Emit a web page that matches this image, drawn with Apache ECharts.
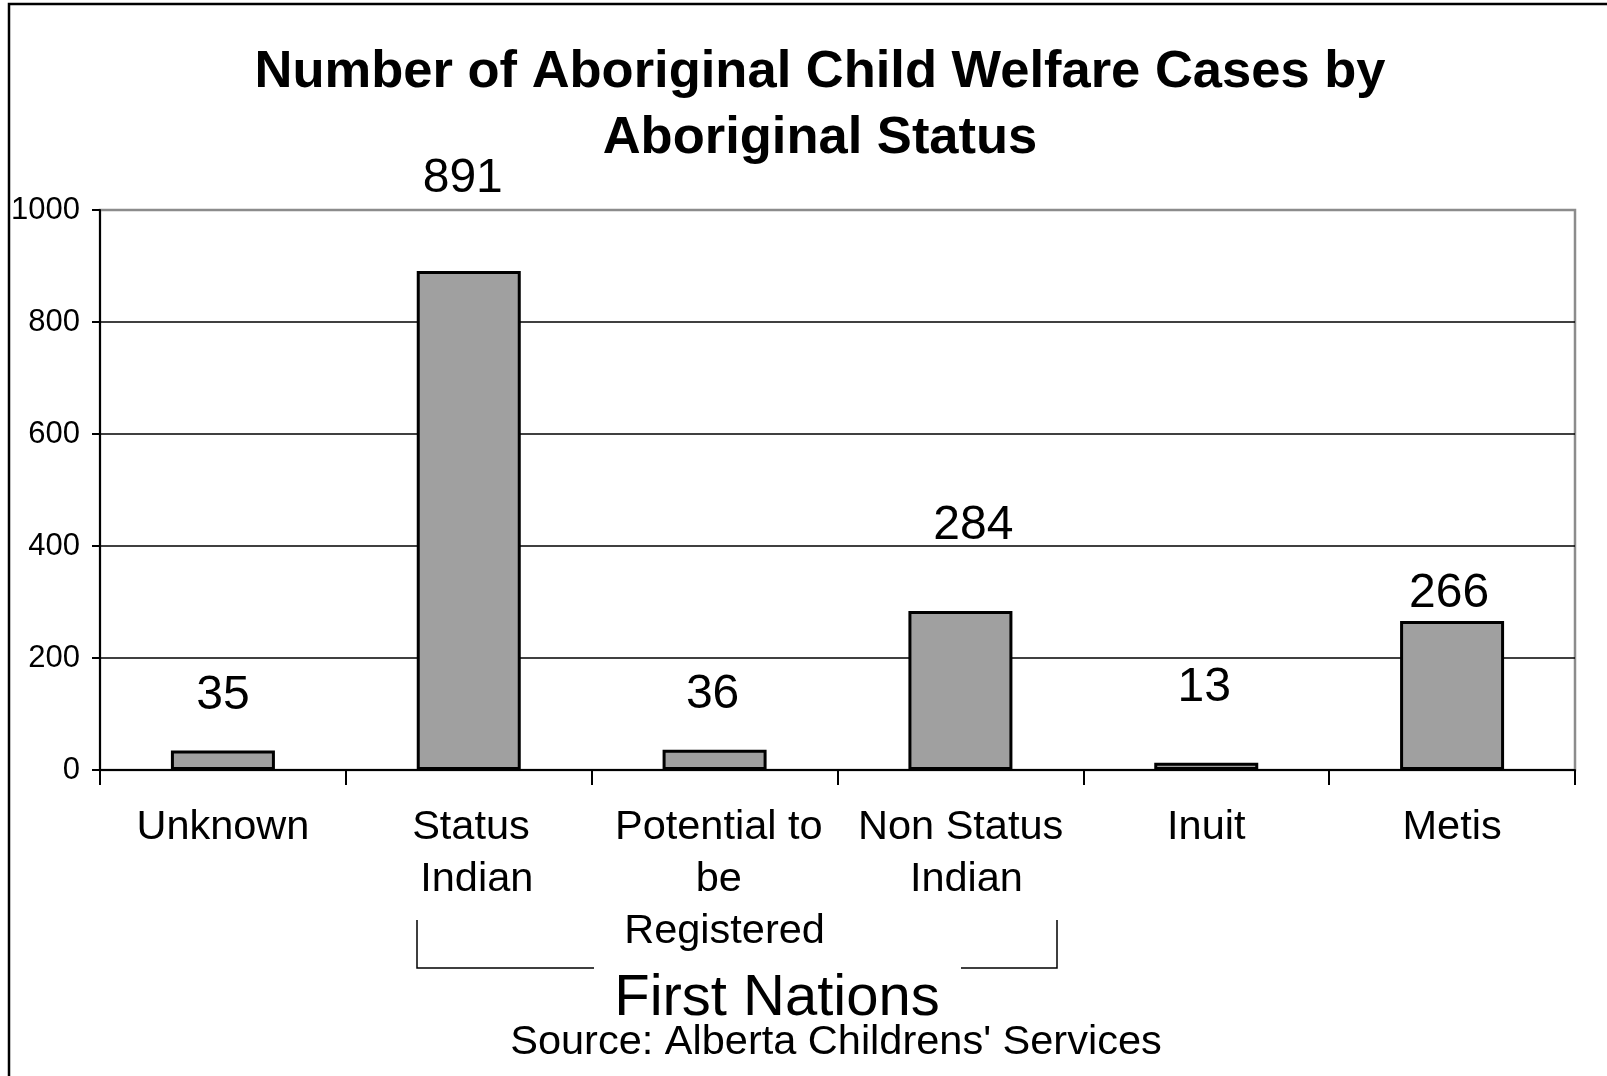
<!DOCTYPE html>
<html>
<head>
<meta charset="utf-8">
<script src="https://cdn.jsdelivr.net/npm/echarts@6/dist/echarts.min.js"></script>
<style>
html,body{margin:0;padding:0;background:#fff;}
#chart{width:1607px;height:1076px;}
</style>
</head>
<body>
<div id="chart"></div>
<script>
// ---- data ----
const categories = ['Unknown', 'Status Indian', 'Potential to be Registered', 'Non Status Indian', 'Inuit', 'Metis'];
const cases = [35, 891, 36, 284, 13, 266];
const yTicks = [0, 200, 400, 600, 800, 1000];
const titleText = 'Number of Aboriginal Child Welfare Cases by\nAboriginal Status';
const groupLabel = 'First Nations';
const sourceLabel = "Source: Alberta Childrens' Services";

// ---- styling (label placement as in the original) ----
const labelOffsets = [[0, -31], [-6, -68], [-2, -31], [13, -61], [-2, -51], [-3, -3]];
const catLabelNudge = [0, 16, 20, 12, 0, 0];
const FONT = '"Liberation Sans", Arial, sans-serif';

const chart = echarts.init(document.getElementById('chart'), null, {renderer: 'canvas'});

const seriesData = cases.map((v, i) => ({
  value: v,
  label: {offset: labelOffsets[i]}
}));
const categoryData = categories.map((c, i) => ({
  value: c,
  textStyle: {padding: [0, 0, 0, catLabelNudge[i]]}
}));

const option = {
  backgroundColor: '#ffffff',
  animation: false,
  title: {
    text: titleText,
    left: 815,
    top: 35,
    textAlign: 'center',
    textStyle: {fontFamily: FONT, fontSize: 52.5, fontWeight: 'bold', color: '#000', lineHeight: 66}
  },
  grid: {
    left: 100, right: 32, top: 210, bottom: 306,
    show: true, borderColor: '#8c8c8c', borderWidth: 2.5, backgroundColor: 'transparent'
  },
  xAxis: {
    type: 'category',
    data: categoryData,
    axisLine: {show: true, lineStyle: {color: '#000', width: 2}},
    axisTick: {show: true, length: 15, lineStyle: {color: '#000', width: 2}},
    axisLabel: {
      fontFamily: FONT, fontSize: 41.5, color: '#000', margin: 32, lineHeight: 52,
      width: 234, overflow: 'break', interval: 0
    }
  },
  yAxis: {
    type: 'value',
    min: yTicks[0], max: yTicks[yTicks.length - 1], interval: yTicks[1] - yTicks[0],
    axisLine: {show: true, lineStyle: {color: '#000', width: 2}},
    axisTick: {show: true, length: 8, lineStyle: {color: '#000', width: 2}},
    axisLabel: {fontFamily: FONT, fontSize: 31, color: '#000', margin: 20, formatter: v => String(v)},
    splitLine: {show: true, lineStyle: {color: ['#000', '#000', '#000', '#000', '#000', '#8c8c8c'], width: 1.5}}
  },
  series: [{
    type: 'bar',
    data: seriesData,
    barWidth: 104,
    itemStyle: {color: '#a0a0a0', borderColor: '#000', borderWidth: 3},
    label: {
      show: true, position: 'top', distance: 0,
      fontFamily: FONT, fontSize: 48, color: '#000'
    }
  }],
  graphic: [
    {type: 'rect', shape: {x: 9, y: 4, width: 1800, height: 1300}, style: {fill: 'none', stroke: '#000', lineWidth: 2.5}, silent: true},
    {type: 'polyline', shape: {points: [[417, 920], [417, 968], [594, 968]]}, style: {fill: 'none', stroke: '#000', lineWidth: 1.5}},
    {type: 'polyline', shape: {points: [[961, 968], [1057, 968], [1057, 920]]}, style: {fill: 'none', stroke: '#000', lineWidth: 1.5}},
    {type: 'text', x: 777, y: 999, style: {text: groupLabel, fontFamily: FONT, fontSize: 58, fill: '#000', textAlign: 'center', textVerticalAlign: 'middle'}},
    {type: 'text', x: 836, y: 1043, style: {text: sourceLabel, fontFamily: FONT, fontSize: 41.5, fill: '#000', textAlign: 'center', textVerticalAlign: 'middle'}}
  ]
};
chart.setOption(option);
</script>
</body>
</html>
